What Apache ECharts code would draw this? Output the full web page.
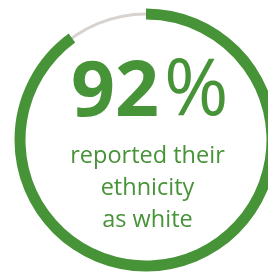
<!DOCTYPE html>
<html>
<head>
<meta charset="utf-8">
<script src="https://cdn.jsdelivr.net/npm/echarts@6/dist/echarts.min.js"></script>
<style>
html, body { margin: 0; padding: 0; background: #fff; }
#main { width: 268px; height: 272px; }
</style>
</head>
<body>
<div id="main"></div>
<script>
// share of the ring drawn in green vs the grey gap (as drawn in the picture)
var arcNames = ['white', 'other']
var arcValues = [90, 10]
var bigNumber = '92'
var bigUnit = '%'
var captionLines = ['reported their', 'ethnicity', 'as white']

var green = '#479338'
var grey = '#d8d3cf'

var chart = echarts.init(document.getElementById('main'))
chart.setOption({
  backgroundColor: '#fff',
  animation: false,
  series: [
    {
      // thin grey track, full circle
      type: 'pie',
      silent: true,
      center: [146, 140],
      radius: [124.5, 127.5],
      label: { show: false },
      labelLine: { show: false },
      itemStyle: { color: grey },
      data: [{ name: 'track', value: 1 }]
    },
    {
      type: 'pie',
      silent: true,
      center: [146, 140],
      radius: [120.5, 131.5],
      startAngle: 90,
      clockwise: true,
      label: { show: false },
      labelLine: { show: false },
      data: arcValues.map(function (v, i) {
        return {
          name: arcNames[i],
          value: v,
          itemStyle: { color: i === 0 ? green : 'transparent' }
        }
      })
    }
  ],
  graphic: [
    {
      type: 'text',
      x: 159,
      y: 94,
      style: {
        text: bigNumber,
        font: 'bold 77px "Open Sans"',
        fill: green,
        align: 'right',
        verticalAlign: 'middle'
      }
    },
    {
      type: 'text',
      x: 164,
      y: 93,
      style: {
        text: bigUnit,
        font: '78px "Open Sans"',
        fill: green,
        align: 'left',
        verticalAlign: 'middle'
      }
    },
    {
      type: 'text',
      x: 147.5,
      y: 140,
      style: {
        text: captionLines.join('\n'),
        font: '23.5px "Open Sans"',
        lineHeight: 32,
        fill: green,
        align: 'center',
        verticalAlign: 'top'
      }
    }
  ]
})
</script>
</body>
</html>
